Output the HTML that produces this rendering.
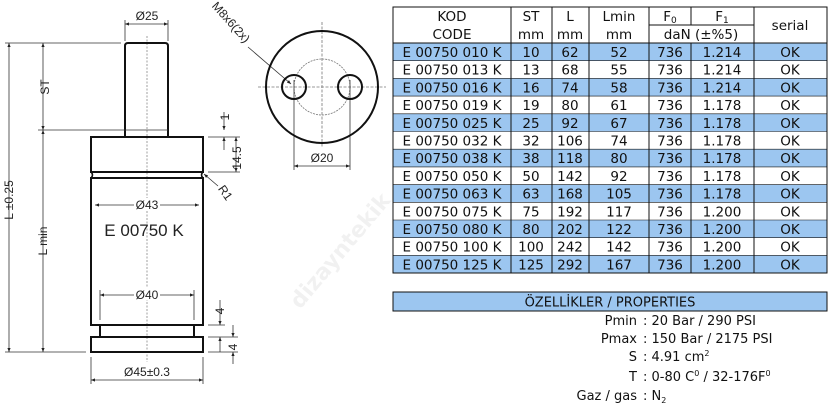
<!DOCTYPE html>
<html><head><meta charset="utf-8"><style>
body{margin:0;background:#fff;}
svg{display:block;}
.t{font-family:"DejaVu Sans","Liberation Sans",sans-serif;font-size:13.5px;fill:#111;}
.p{font-family:"DejaVu Sans","Liberation Sans",sans-serif;font-size:13px;fill:#111;}
.d{font-family:"Liberation Sans",sans-serif;font-size:12px;fill:#222;}
</style></head><body>
<svg width="830" height="416" viewBox="0 0 830 416" xmlns="http://www.w3.org/2000/svg">
<defs>
<marker id="a" viewBox="0 0 10 10" refX="10" refY="5" markerWidth="7" markerHeight="5" orient="auto-start-reverse"><path d="M0,1 L10,5 L0,9z" fill="#222"/></marker>
</defs>
<g stroke="#111" fill="none">
<line x1="147" y1="36" x2="147" y2="362" stroke="#888" stroke-width="0.8" stroke-dasharray="2,1.5"/>
<path d="M125,137 V46 Q125,43 128,43 H165 Q168,43 168,46 V137" stroke-width="2"/>
<path d="M91,172 V137 H203 V172 Z" stroke-width="2"/>
<path d="M91,172 Q94,175 91,178 M203,172 Q200,175 203,178" stroke-width="1.5"/>
<path d="M91,178 H203 V325 H91 Z" stroke-width="2"/>
<path d="M100,325 V337 M194,325 V337" stroke-width="2"/>
<rect x="91" y="337" width="112" height="15" stroke-width="2"/>
</g>
<g stroke="#333" stroke-width="0.8" fill="none">
<line x1="125" y1="20" x2="125" y2="41"/><line x1="168" y1="20" x2="168" y2="41"/>
<line x1="125" y1="24" x2="168" y2="24" marker-start="url(#a)" marker-end="url(#a)"/>
<line x1="5" y1="43" x2="121" y2="43"/>
<line x1="38" y1="130" x2="168" y2="130"/>
<line x1="5" y1="352" x2="86" y2="352"/>
<line x1="9" y1="43" x2="9" y2="352" marker-start="url(#a)" marker-end="url(#a)"/>
<line x1="43" y1="43" x2="43" y2="130" marker-start="url(#a)" marker-end="url(#a)"/>
<line x1="43" y1="130" x2="43" y2="352" marker-start="url(#a)" marker-end="url(#a)"/>
<line x1="95" y1="205" x2="199" y2="205" marker-start="url(#a)" marker-end="url(#a)"/>
<line x1="100" y1="290" x2="100" y2="320"/><line x1="194" y1="290" x2="194" y2="320"/>
<line x1="100" y1="295" x2="194" y2="295" marker-start="url(#a)" marker-end="url(#a)"/>
<line x1="91" y1="357" x2="91" y2="384"/><line x1="203" y1="357" x2="203" y2="384"/>
<line x1="91" y1="380" x2="203" y2="380" marker-start="url(#a)" marker-end="url(#a)"/>
<line x1="208" y1="137" x2="240" y2="137"/>
<line x1="208" y1="172" x2="240" y2="172"/>
<line x1="224" y1="112" x2="224" y2="130" marker-end="url(#a)"/>
<line x1="224" y1="150" x2="224" y2="137" marker-end="url(#a)"/>
<line x1="236" y1="137" x2="236" y2="172" marker-start="url(#a)" marker-end="url(#a)"/>
<line x1="208" y1="325" x2="225" y2="325"/>
<line x1="208" y1="337" x2="238" y2="337"/>
<line x1="208" y1="352" x2="238" y2="352"/>
<line x1="220" y1="300" x2="220" y2="325" marker-end="url(#a)"/>
<line x1="220" y1="352" x2="220" y2="337" marker-end="url(#a)"/>
<line x1="233" y1="325" x2="233" y2="337" marker-end="url(#a)"/>
<line x1="233" y1="364" x2="233" y2="352" marker-end="url(#a)"/>
<line x1="218" y1="186" x2="204" y2="174" marker-end="url(#a)"/>
<line x1="258" y1="87" x2="386" y2="87" stroke="#777" stroke-dasharray="3,1.5"/>
<line x1="322" y1="22" x2="322" y2="148" stroke="#777" stroke-dasharray="3,1.5"/>
<circle cx="322" cy="87" r="28" stroke="#777" stroke-dasharray="2,1"/>
<line x1="294" y1="80" x2="294" y2="170"/><line x1="350" y1="80" x2="350" y2="170"/>
<line x1="294" y1="166" x2="350" y2="166" marker-start="url(#a)" marker-end="url(#a)"/>
<line x1="248" y1="47" x2="291" y2="84" marker-end="url(#a)"/>
</g>
<g stroke="#111" stroke-width="2" fill="none">
<circle cx="322" cy="87" r="56"/>
<circle cx="294" cy="87" r="12"/>
<circle cx="350" cy="87" r="12"/>
</g>
<g fill="#fff">
<rect x="134" y="198" width="26" height="12"/>
<rect x="134" y="288" width="26" height="12"/>
</g>
<g class="d" text-anchor="middle">
<text x="147" y="20">Ø25</text>
<text x="147" y="209">Ø43</text>
<text x="147" y="299">Ø40</text>
<text x="147" y="376">Ø45±0.3</text>
<text x="322" y="162">Ø20</text>
<text transform="translate(49,87) rotate(-90)">ST</text>
<text transform="translate(13,200) rotate(-90)">L ±0.25</text>
<text transform="translate(47,241) rotate(-90)">L min</text>
<text transform="translate(229,117) rotate(-90)">1</text>
<text transform="translate(241,158) rotate(-90)">14.5</text>
<text transform="translate(224,311) rotate(-90)">4</text>
<text transform="translate(237,347) rotate(-90)">4</text>
<text transform="translate(222,195) rotate(55)">R1</text>
<text transform="translate(228,25) rotate(48)">M8x6(2x)</text>
</g>
<text x="144" y="236" text-anchor="middle" style="font-family:'Liberation Sans',sans-serif;font-size:17px;fill:#222">E 00750 K</text>

<g fill="#9cc6f0">
<rect x="393" y="43" width="434" height="17.7"/>
<rect x="393" y="78.4" width="434" height="17.7"/>
<rect x="393" y="113.8" width="434" height="17.7"/>
<rect x="393" y="149.2" width="434" height="17.7"/>
<rect x="393" y="184.6" width="434" height="17.7"/>
<rect x="393" y="220" width="434" height="17.7"/>
<rect x="393" y="255.4" width="434" height="17.7"/>
</g>
<g stroke="#111" stroke-width="1" fill="none">
<rect x="393" y="7" width="434" height="266"/>
<line x1="393" y1="43" x2="827" y2="43"/>
<line x1="649" y1="25" x2="754" y2="25"/>
<line x1="511" y1="7" x2="511" y2="273"/>
<line x1="552" y1="7" x2="552" y2="273"/>
<line x1="589" y1="7" x2="589" y2="273"/>
<line x1="649" y1="7" x2="649" y2="273"/>
<line x1="691" y1="7" x2="691" y2="25"/><line x1="691" y1="43" x2="691" y2="273"/>
<line x1="754" y1="7" x2="754" y2="273"/>
<g stroke-width="0.6">
<line x1="393" y1="60.7" x2="827" y2="60.7"/><line x1="393" y1="78.4" x2="827" y2="78.4"/>
<line x1="393" y1="96.1" x2="827" y2="96.1"/><line x1="393" y1="113.8" x2="827" y2="113.8"/>
<line x1="393" y1="131.5" x2="827" y2="131.5"/><line x1="393" y1="149.2" x2="827" y2="149.2"/>
<line x1="393" y1="166.9" x2="827" y2="166.9"/><line x1="393" y1="184.6" x2="827" y2="184.6"/>
<line x1="393" y1="202.3" x2="827" y2="202.3"/><line x1="393" y1="220" x2="827" y2="220"/>
<line x1="393" y1="237.7" x2="827" y2="237.7"/><line x1="393" y1="255.4" x2="827" y2="255.4"/>
</g>
</g>
<g class="t" text-anchor="middle">
<text x="452" y="21">KOD</text><text x="452" y="39">CODE</text>
<text x="531" y="21">ST</text><text x="531" y="39">mm</text>
<text x="570" y="21">L</text><text x="570" y="39">mm</text>
<text x="619" y="21">Lmin</text><text x="619" y="39">mm</text>
<text x="670" y="21">F<tspan font-size="9" dy="2">0</tspan></text>
<text x="722" y="21">F<tspan font-size="9" dy="2">1</tspan></text>
<text x="701" y="39">daN (±%5)</text>
<text x="790" y="30">serial</text>
</g>
<g class="t" text-anchor="middle">
<text y="57"><tspan x="452">E 00750 010 K</tspan><tspan x="531">10</tspan><tspan x="570">62</tspan><tspan x="619">52</tspan><tspan x="670">736</tspan><tspan x="722">1.214</tspan><tspan x="790">OK</tspan></text>
<text y="74.7"><tspan x="452">E 00750 013 K</tspan><tspan x="531">13</tspan><tspan x="570">68</tspan><tspan x="619">55</tspan><tspan x="670">736</tspan><tspan x="722">1.214</tspan><tspan x="790">OK</tspan></text>
<text y="92.4"><tspan x="452">E 00750 016 K</tspan><tspan x="531">16</tspan><tspan x="570">74</tspan><tspan x="619">58</tspan><tspan x="670">736</tspan><tspan x="722">1.214</tspan><tspan x="790">OK</tspan></text>
<text y="110.1"><tspan x="452">E 00750 019 K</tspan><tspan x="531">19</tspan><tspan x="570">80</tspan><tspan x="619">61</tspan><tspan x="670">736</tspan><tspan x="722">1.178</tspan><tspan x="790">OK</tspan></text>
<text y="127.8"><tspan x="452">E 00750 025 K</tspan><tspan x="531">25</tspan><tspan x="570">92</tspan><tspan x="619">67</tspan><tspan x="670">736</tspan><tspan x="722">1.178</tspan><tspan x="790">OK</tspan></text>
<text y="145.5"><tspan x="452">E 00750 032 K</tspan><tspan x="531">32</tspan><tspan x="570">106</tspan><tspan x="619">74</tspan><tspan x="670">736</tspan><tspan x="722">1.178</tspan><tspan x="790">OK</tspan></text>
<text y="163.2"><tspan x="452">E 00750 038 K</tspan><tspan x="531">38</tspan><tspan x="570">118</tspan><tspan x="619">80</tspan><tspan x="670">736</tspan><tspan x="722">1.178</tspan><tspan x="790">OK</tspan></text>
<text y="180.9"><tspan x="452">E 00750 050 K</tspan><tspan x="531">50</tspan><tspan x="570">142</tspan><tspan x="619">92</tspan><tspan x="670">736</tspan><tspan x="722">1.178</tspan><tspan x="790">OK</tspan></text>
<text y="198.6"><tspan x="452">E 00750 063 K</tspan><tspan x="531">63</tspan><tspan x="570">168</tspan><tspan x="619">105</tspan><tspan x="670">736</tspan><tspan x="722">1.178</tspan><tspan x="790">OK</tspan></text>
<text y="216.3"><tspan x="452">E 00750 075 K</tspan><tspan x="531">75</tspan><tspan x="570">192</tspan><tspan x="619">117</tspan><tspan x="670">736</tspan><tspan x="722">1.200</tspan><tspan x="790">OK</tspan></text>
<text y="234"><tspan x="452">E 00750 080 K</tspan><tspan x="531">80</tspan><tspan x="570">202</tspan><tspan x="619">122</tspan><tspan x="670">736</tspan><tspan x="722">1.200</tspan><tspan x="790">OK</tspan></text>
<text y="251.7"><tspan x="452">E 00750 100 K</tspan><tspan x="531">100</tspan><tspan x="570">242</tspan><tspan x="619">142</tspan><tspan x="670">736</tspan><tspan x="722">1.200</tspan><tspan x="790">OK</tspan></text>
<text y="269.4"><tspan x="452">E 00750 125 K</tspan><tspan x="531">125</tspan><tspan x="570">292</tspan><tspan x="619">167</tspan><tspan x="670">736</tspan><tspan x="722">1.200</tspan><tspan x="790">OK</tspan></text>
</g>
<rect x="393" y="292" width="434" height="19" fill="#9cc6f0" stroke="#111" stroke-width="1"/>
<text class="p" x="610" y="306.5" text-anchor="middle">ÖZELLİKLER / PROPERTIES</text>
<g class="p">
<text x="637" y="325" text-anchor="end">Pmin</text><text x="643" y="325">: 20 Bar / 290 PSI</text>
<text x="637" y="343" text-anchor="end">Pmax</text><text x="643" y="343">: 150 Bar / 2175 PSI</text>
<text x="637" y="361" text-anchor="end">S</text><text x="643" y="361">: 4.91 cm<tspan font-size="8" dy="-5">2</tspan></text>
<text x="637" y="381" text-anchor="end">T</text><text x="643" y="381">: 0-80 C<tspan font-size="8" dy="-5">0</tspan><tspan dy="5"> / 32-176F</tspan><tspan font-size="8" dy="-5">0</tspan></text>
<text x="637" y="400" text-anchor="end">Gaz / gas</text><text x="643" y="400">: N<tspan font-size="8" dy="3">2</tspan></text>
</g>
<text transform="translate(300,310) rotate(-50)" style="font-family:'DejaVu Sans',sans-serif;font-size:22px;font-weight:bold;fill:#000;opacity:0.05">dizayntekik</text>
</svg>
</body></html>
